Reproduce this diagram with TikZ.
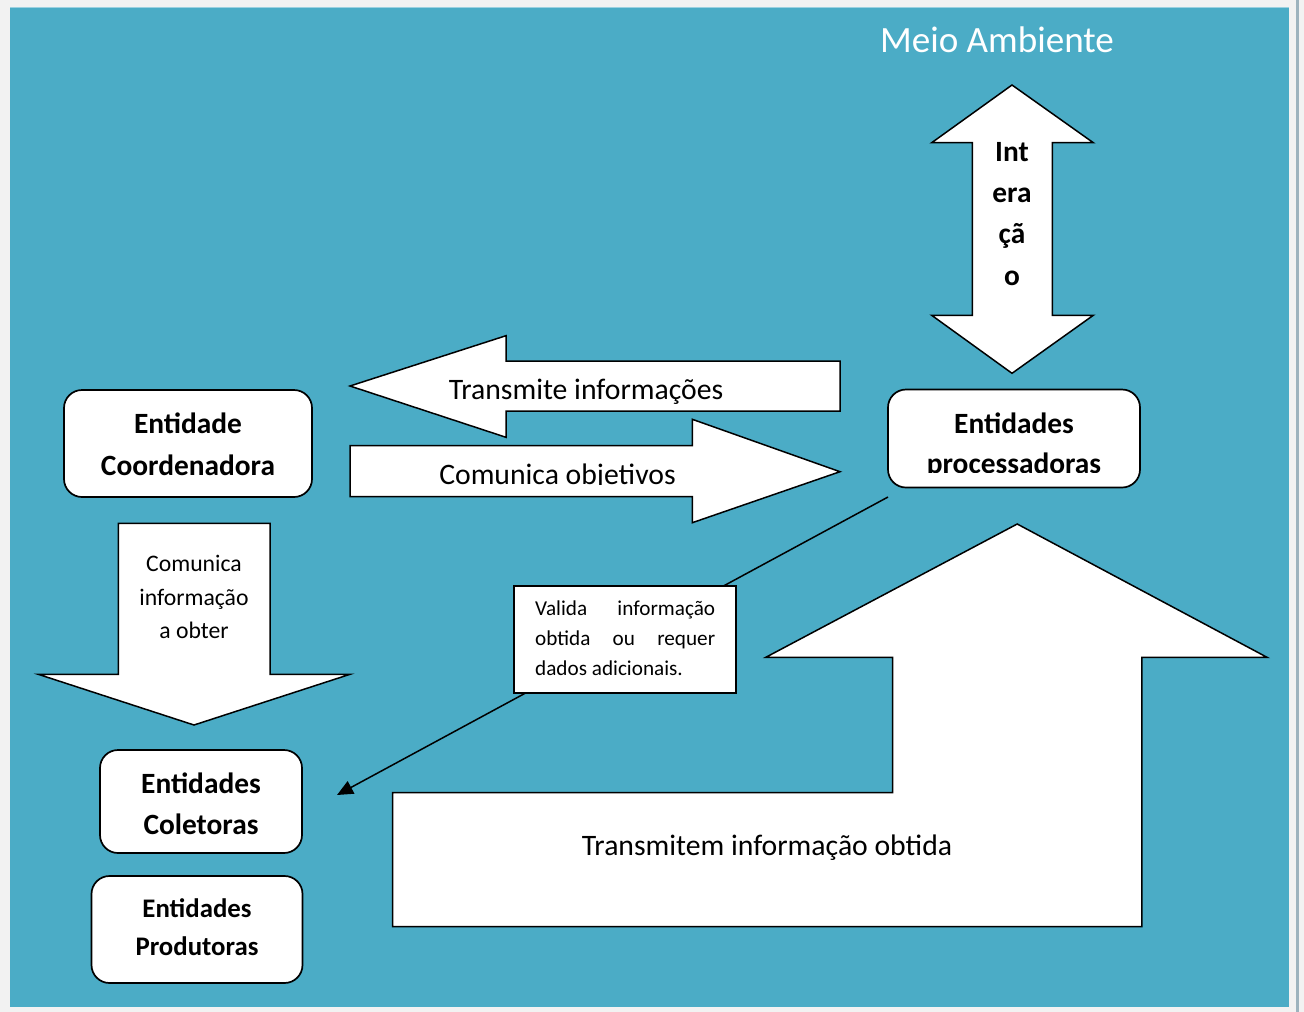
\documentclass[tikz,border=0pt]{standalone}
\usepackage{fontspec}
\setmainfont{Carlito}
\usetikzlibrary{arrows.meta}
\definecolor{sea}{HTML}{4BACC6}
\definecolor{page}{HTML}{F2F2F2}
\definecolor{rim}{HTML}{9DB3BE}
\newcommand\setfs[2]{\fontsize{#1}{#2}\selectfont}

\begin{document}
\begin{tikzpicture}[x=1pt,y=-1pt,
  blockarrow/.style={draw=black, fill=white, line width=1.5pt, line join=miter},
  entbox/.style={draw=black, fill=white, rounded corners=18pt, line width=1.7pt,
                 inner sep=0pt, outer sep=0pt},
  boldlbl/.style={inner sep=0pt, anchor=base, font=\bfseries\setfs{29.4}{35}},
  txtlbl/.style={inner sep=0pt, anchor=base, font=\setfs{29.7}{35}},
  smalllbl/.style={inner sep=0pt, anchor=base, font=\setfs{23.7}{28}},
  notelbl/.style={inner sep=0pt, anchor=base west, font=\setfs{21.2}{25}},
  notebox/.style={draw=black, fill=white, line width=1.8pt, inner sep=0pt}
]
  % page and coloured panel
  \useasboundingbox (0,0) rectangle (1304,1012);
  \fill[page] (0,0) rectangle (1304,1012);
  \fill[sea] (10,7) rectangle (1289,1007);
  \draw[sea!55!white, line width=1pt] (10,7.5) -- (1289,7.5);
  \fill[rim] (1296,0) rectangle (1299,1012);

  % title
  \node[inner sep=0pt, anchor=base, text=white, font=\setfs{37.1}{40}] (meio) at (997,52.7) {Meio Ambiente};

  % two-headed vertical arrow
  \draw[blockarrow] (1012,85) -- (1093.3,142.7) -- (1052.3,142.7) -- (1052.3,315.3)
    -- (1093.3,315.3) -- (1012,373.3) -- (931.7,315.3) -- (972.3,315.3)
    -- (972.3,142.7) -- (931.7,142.7) -- cycle;
  \node[boldlbl] (int1) at (1012,161) {Int};
  \node[boldlbl] (int2) at (1012,202) {era};
  \node[boldlbl] (int3) at (1012,243.5) {çã};
  \node[boldlbl] (int4) at (1012,285) {o};

  % arrow to the left
  \draw[blockarrow] (350,386) -- (506,335.7) -- (506,361) -- (840,361) -- (840,411)
    -- (506,411) -- (506,437.3) -- cycle;
  \node[txtlbl] (transm) at (586,399) {Transmite informações};

  % arrow to the right
  \draw[blockarrow] (350,445.7) -- (692.3,445.7) -- (692.3,419.3) -- (840,471.7)
    -- (692.3,522.7) -- (692.3,496.7) -- (350,496.7) -- cycle;
  \begin{scope}
    \clip (350,440) rectangle (840,484.5);
    \node[txtlbl] (comobj) at (557.5,484) {Comunica objetivos};
  \end{scope}

  % downward arrow
  \draw[blockarrow] (118.3,523.3) -- (270,523.3) -- (270,674.3) -- (350,674.3)
    -- (194,725) -- (38.3,674.3) -- (118.3,674.3) -- cycle;
  \node[smalllbl] (cinf1) at (194,571.7) {Comunica};
  \node[smalllbl] (cinf2) at (194,605.7) {informação};
  \node[smalllbl] (cinf3) at (194,638) {a obter};

  % large upward arrow
  \draw[blockarrow] (392.6,926.7) -- (392.6,792.7) -- (892.6,792.7) -- (892.6,657.3)
    -- (765.8,657.3) -- (1017.2,524) -- (1267,657.3) -- (1141.8,657.3)
    -- (1141.8,926.7) -- cycle;
  \node[txtlbl] (transob) at (767,855) {Transmitem informação obtida};

  % entity boxes
  \node[entbox, minimum width=248pt, minimum height=107pt] (coord) at (188,443.5) {};
  \node[boldlbl] (coord1) at (188,433) {Entidade};
  \node[boldlbl] (coord2) at (188,475) {Coordenadora};

  \node[entbox, minimum width=252pt, minimum height=98pt] (proc) at (1014,438.5) {};
  \begin{scope}
    \clip (888,390) rectangle (1140,472);
    \node[boldlbl] (proc1) at (1014,433) {Entidades};
    \node[boldlbl] (proc2) at (1014,473.5) {processadoras};
  \end{scope}

  \node[entbox, minimum width=202pt, minimum height=103pt] (colet) at (201,801.5) {};
  \node[boldlbl] (colet1) at (201,793) {Entidades};
  \node[boldlbl] (colet2) at (201,834) {Coletoras};

  \node[entbox, minimum width=211pt, minimum height=107pt] (prod) at (197,929.5) {};
  \node[boldlbl, font=\bfseries\setfs{26.8}{30}] (prod1) at (197,917.5) {Entidades};
  \node[boldlbl, font=\bfseries\setfs{26.8}{30}] (prod2) at (197,955.5) {Produtoras};

  % callout connector and its note
  \coordinate (vstart) at (888,497);
  \coordinate (vend) at (337,795);
  \draw[line width=1.5pt, -{Triangle[length=16pt, width=14pt]}] (vstart) -- (vend);
  \node[notebox, minimum width=222pt, minimum height=107pt] (note) at (624.9,639.2) {};
  \node[notelbl] (note1) at (535,615.7) {\makebox[180pt][s]{Valida informação}};
  \node[notelbl] (note2) at (535,645.5) {\makebox[180pt][s]{obtida ou requer}};
  \node[notelbl] (note3) at (535,675.3) {dados adicionais.};
\end{tikzpicture}
\end{document}
